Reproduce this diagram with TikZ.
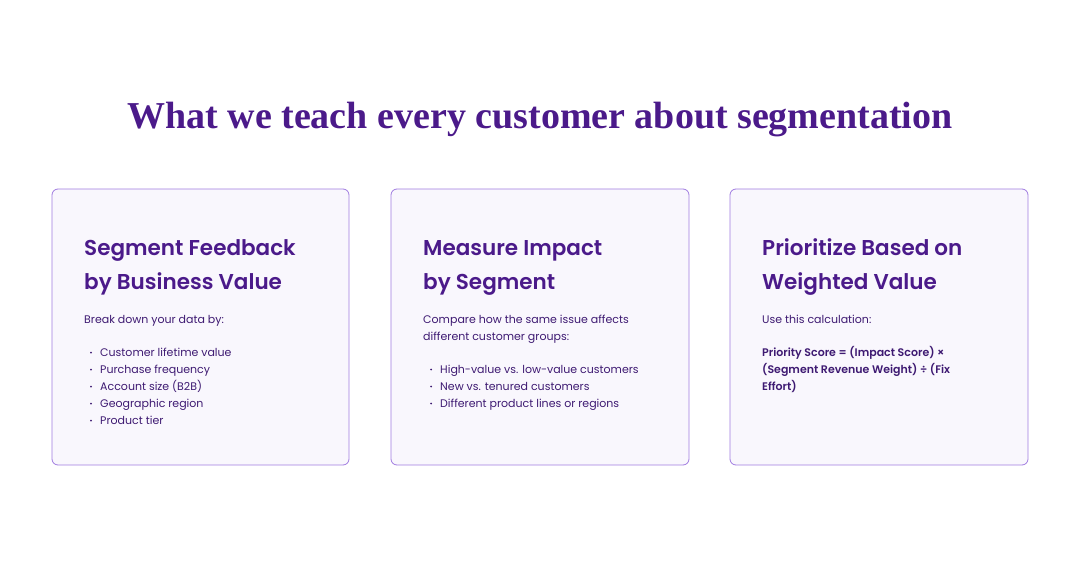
\documentclass[tikz,border=0pt]{standalone}
\usepackage{fontspec}
\setmainfont{Poppins}
\newfontfamily\headfont{Poppins SemiBold}
\newfontfamily\titlefont{Liberation Serif}
\definecolor{ttl}{HTML}{4B1A8A}
\definecolor{bdy}{HTML}{3E1A72}
\definecolor{cfill}{HTML}{F9F7FD}
\definecolor{cborder}{HTML}{A07BE0}
\tikzset{
  card/.style={draw=cborder, fill=cfill, rounded corners=6pt, line width=0.8pt},
  head/.style={anchor=base west, inner sep=0, text=ttl, font=\headfont\fontsize{21.5}{25}\selectfont},
  txt/.style={anchor=base west, inner sep=0, text=bdy, font=\fontsize{11}{12}\selectfont},
  bul/.style={anchor=base west, inner sep=0, text=bdy, font=\fontsize{11}{12}\selectfont},
}
\begin{document}
\begin{tikzpicture}[x=1pt,y=-1pt]
\useasboundingbox (0,0) rectangle (1080,562);
\node[inner sep=0, text=ttl, font=\titlefont\bfseries\fontsize{38}{42}\selectfont] (title) at (540,120) {What we teach every customer about segmentation};
\draw[card] (52,189) rectangle (349,465);
\draw[card] (391,189) rectangle (689,465);
\draw[card] (730,189) rectangle (1028,465);
% card 1
\node[head] (h1a) at (84,255) {Segment Feedback};
\node[head] (h1b) at (84,289) {by Business Value};
\node[txt] (t1) at (84,323) {Break down your data by:};
\foreach \y/\s [count=\i] in {356/Customer lifetime value,373/Purchase frequency,390/Account size (B2B),407/Geographic region,424/Product tier}{
  \node[bul] (b1\i) at (100,\y) {\s};
  \fill[bdy] (91,\y-3.5) circle (1pt);
}
% card 2
\node[head] (h2a) at (423,255) {Measure Impact};
\node[head] (h2b) at (423,289) {by Segment};
\node[txt] (t2a) at (423,323) {Compare how the same issue affects};
\node[txt] (t2b) at (423,340) {different customer groups:};
\foreach \y/\s [count=\i] in {373/High-value vs. low-value customers,390/New vs. tenured customers,407/Different product lines or regions}{
  \node[bul] (b2\i) at (440,\y) {\s};
  \fill[bdy] (431,\y-3.5) circle (1pt);
}
% card 3
\node[head] (h3a) at (762,255) {Prioritize Based on};
\node[head] (h3b) at (762,289) {Weighted Value};
\node[txt] (t3) at (762,323) {Use this calculation:};
\node[txt,font=\headfont\fontsize{11}{12}\selectfont] (f1) at (762,356) {Priority Score = (Impact Score) ×};
\node[txt,font=\headfont\fontsize{11}{12}\selectfont] (f2) at (762,373) {(Segment Revenue Weight) ÷ (Fix};
\node[txt,font=\headfont\fontsize{11}{12}\selectfont] (f3) at (762,390) {Effort)};
\end{tikzpicture}
\end{document}
